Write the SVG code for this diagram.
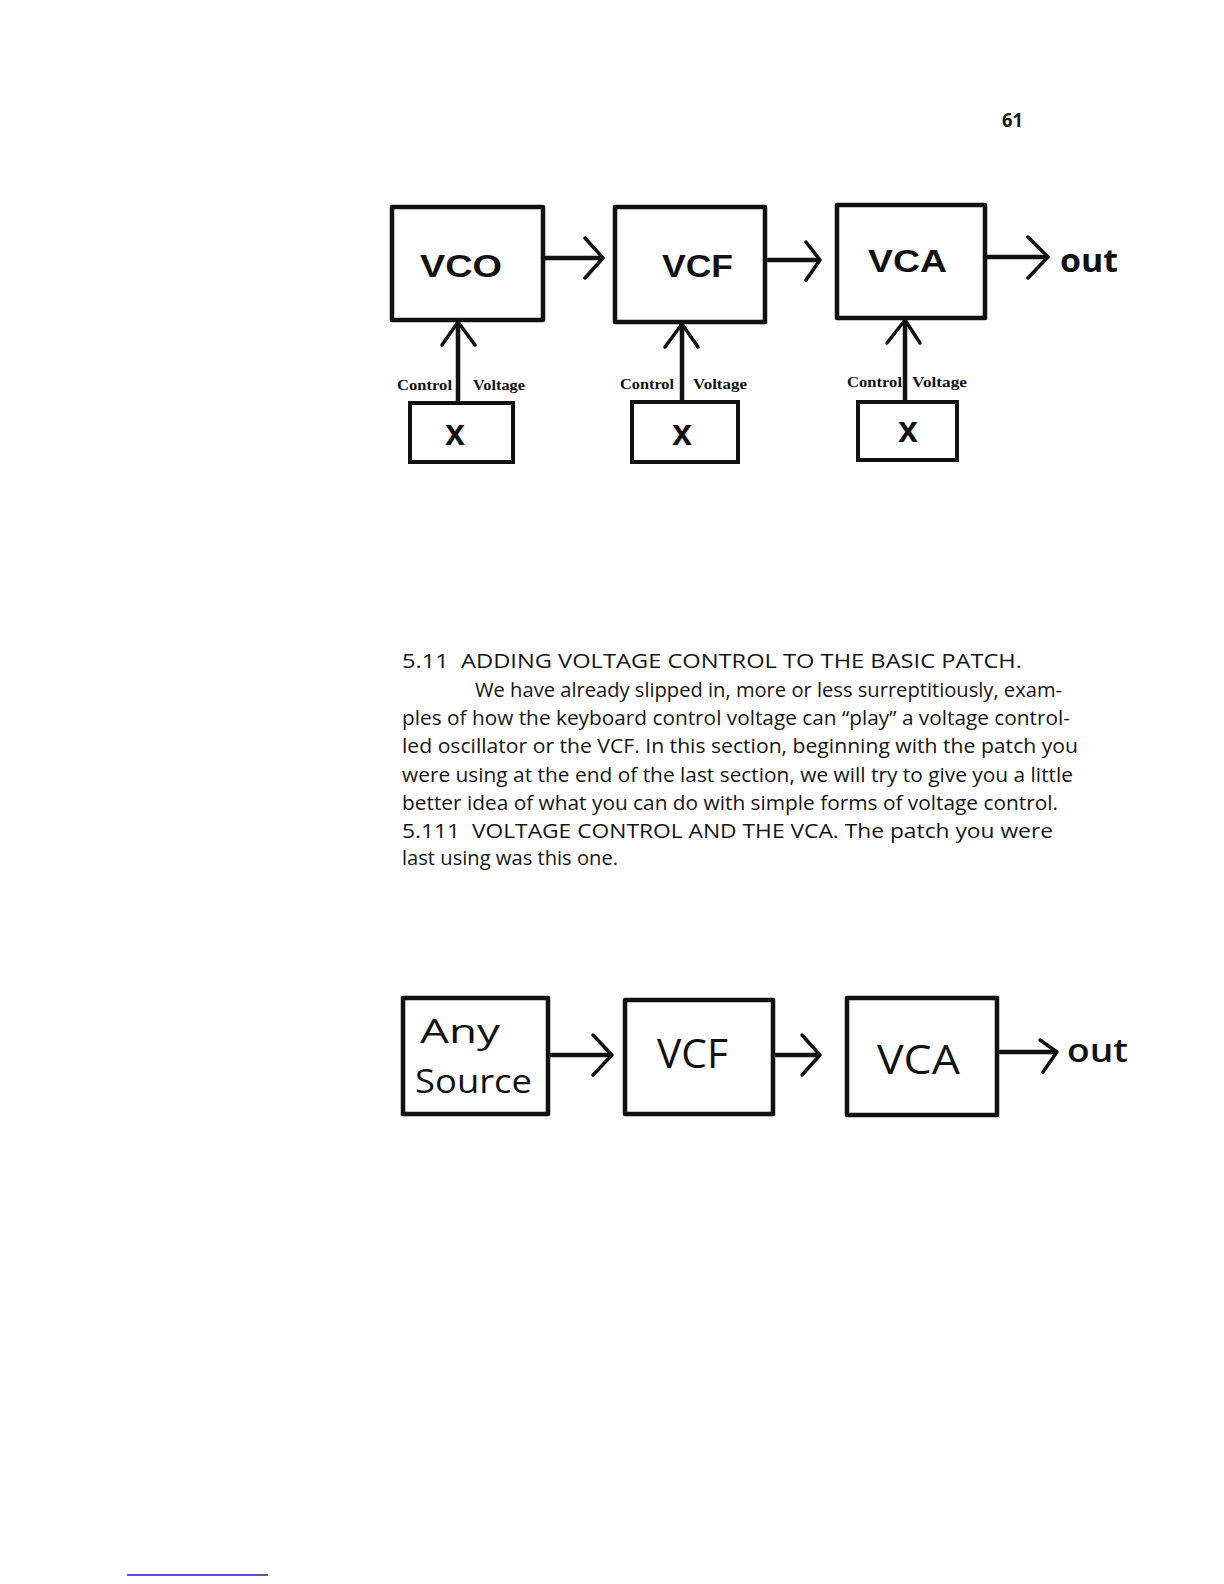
<svg xmlns="http://www.w3.org/2000/svg" width="1224" height="1584" viewBox="0 0 1224 1584">
<style>
.box{fill:none;stroke:#111;stroke-width:4.5;stroke-linejoin:round}
.xbox{fill:none;stroke:#111;stroke-width:4}
.ln{fill:none;stroke:#111;stroke-width:4.5;stroke-linecap:round;stroke-linejoin:round}
.hd{fill:none;stroke:#111;stroke-width:3.5;stroke-linecap:round;stroke-linejoin:round}
.big{font-family:"Liberation Sans",Arial,sans-serif;font-weight:bold;font-size:32px;fill:#111}
.cv{font-family:"Liberation Serif","Times New Roman",serif;font-weight:bold;font-size:15px;fill:#111}
.xg{font-family:"Liberation Sans",Arial,sans-serif;font-weight:bold;font-size:36px;fill:#111}
.out{font-family:"Open Sans","Liberation Sans",sans-serif;font-weight:bold;font-size:32px;fill:#111}
.body{font-family:"Open Sans","Liberation Sans",sans-serif;font-size:20px;fill:#151515}
.hand{font-family:"Open Sans","Liberation Sans",sans-serif;font-size:40px;fill:#111}
.hand2{font-family:"Open Sans","Liberation Sans",sans-serif;font-size:33px;fill:#111}
.pg{font-family:"Open Sans","Liberation Sans",sans-serif;font-weight:bold;font-size:19px;fill:#151515}
</style>
<rect width="1224" height="1584" fill="#fff"/>
<text class="pg" x="1002" y="127" textLength="21" lengthAdjust="spacingAndGlyphs">61</text>

<!-- top diagram nodes -->
<g id="vco">
<rect class="box" x="392" y="207" width="151" height="113"/>
<text class="big" x="420" y="277" textLength="82" lengthAdjust="spacingAndGlyphs">VCO</text>
</g>
<g id="vcf">
<rect class="box" x="615" y="207" width="150" height="115"/>
<text class="big" x="662" y="277" textLength="71" lengthAdjust="spacingAndGlyphs">VCF</text>
</g>
<g id="vca">
<rect class="box" x="837" y="205" width="148" height="113"/>
<text class="big" x="868" y="272" textLength="79" lengthAdjust="spacingAndGlyphs">VCA</text>
</g>
<g id="out1">
<text class="out" x="1060" y="272" textLength="58" lengthAdjust="spacingAndGlyphs">out</text>
</g>
<g id="x1">
<rect class="xbox" x="410" y="403" width="103" height="59"/>
<text class="xg" x="455" y="445" text-anchor="middle">x</text>
</g>
<g id="x2">
<rect class="xbox" x="632" y="402" width="106" height="60"/>
<text class="xg" x="682" y="445" text-anchor="middle">x</text>
</g>
<g id="x3">
<rect class="xbox" x="858" y="402" width="99" height="58"/>
<text class="xg" x="908" y="442" text-anchor="middle">x</text>
</g>

<!-- top connectors -->
<g id="connectors-top">
<line class="ln" x1="543" y1="258" x2="602" y2="258"/>
<polyline class="hd" points="585,238 603,258 585,278"/>
<line class="ln" x1="765" y1="260" x2="819" y2="260"/>
<polyline class="hd" points="806,242 820,260 806,280"/>
<line class="ln" x1="985" y1="257" x2="1047" y2="257"/>
<polyline class="hd" points="1028,237 1048,257 1028,278"/>
<line class="ln" x1="458" y1="322" x2="458" y2="402"/>
<polyline class="hd" points="442,345 458,322 475,345"/>
<line class="ln" x1="682" y1="324" x2="682" y2="401"/>
<polyline class="hd" points="665,347 682,324 698,347"/>
<line class="ln" x1="905" y1="320" x2="905" y2="401"/>
<polyline class="hd" points="887,343 905,320 920,343"/>
<text class="cv" x="397" y="390" textLength="55" lengthAdjust="spacingAndGlyphs">Control</text>
<text class="cv" x="473" y="390" textLength="52" lengthAdjust="spacingAndGlyphs">Voltage</text>
<text class="cv" x="620" y="389" textLength="54" lengthAdjust="spacingAndGlyphs">Control</text>
<text class="cv" x="693" y="389" textLength="54" lengthAdjust="spacingAndGlyphs">Voltage</text>
<text class="cv" x="847" y="387" textLength="55" lengthAdjust="spacingAndGlyphs">Control</text>
<text class="cv" x="912" y="387" textLength="55" lengthAdjust="spacingAndGlyphs">Voltage</text>
</g>

<!-- body text -->
<g id="text">
<text class="body" x="402" y="668" textLength="620" lengthAdjust="spacingAndGlyphs" xml:space="preserve">5.11  ADDING VOLTAGE CONTROL TO THE BASIC PATCH.</text>
<text class="body" x="475" y="697" textLength="587" lengthAdjust="spacingAndGlyphs">We have already slipped in, more or less surreptitiously, exam-</text>
<text class="body" x="402" y="725" textLength="668" lengthAdjust="spacingAndGlyphs">ples of how the keyboard control voltage can “play” a voltage control-</text>
<text class="body" x="402" y="753" textLength="676" lengthAdjust="spacingAndGlyphs">led oscillator or the VCF. In this section, beginning with the patch you</text>
<text class="body" x="402" y="782" textLength="671" lengthAdjust="spacingAndGlyphs">were using at the end of the last section, we will try to give you a little</text>
<text class="body" x="402" y="810" textLength="656" lengthAdjust="spacingAndGlyphs">better idea of what you can do with simple forms of voltage control.</text>
<text class="body" x="402" y="838" textLength="651" lengthAdjust="spacingAndGlyphs" xml:space="preserve">5.111  VOLTAGE CONTROL AND THE VCA. The patch you were</text>
<text class="body" x="402" y="865" textLength="216" lengthAdjust="spacingAndGlyphs">last using was this one.</text>
</g>

<!-- bottom diagram nodes -->
<g id="anysource">
<rect class="box" x="403" y="998" width="145" height="116"/>
<text class="hand2" x="420" y="1043" textLength="80" lengthAdjust="spacingAndGlyphs">Any</text>
<text class="hand2" x="415" y="1093" textLength="117" lengthAdjust="spacingAndGlyphs">Source</text>
</g>
<g id="vcf2">
<rect class="box" x="625" y="1000" width="148" height="114"/>
<text class="hand" x="657" y="1068" textLength="71" lengthAdjust="spacingAndGlyphs">VCF</text>
</g>
<g id="vca2">
<rect class="box" x="847" y="998" width="150" height="117"/>
<text class="hand" x="877" y="1074" textLength="83" lengthAdjust="spacingAndGlyphs">VCA</text>
</g>
<g id="out2">
<text class="out" style="font-weight:600" x="1067" y="1062" textLength="61" lengthAdjust="spacingAndGlyphs">out</text>
</g>

<!-- bottom connectors -->
<g id="connectors-bottom">
<line class="ln" x1="548" y1="1055" x2="611" y2="1055"/>
<polyline class="hd" points="593,1035 612,1055 593,1075"/>
<line class="ln" x1="773" y1="1055" x2="819" y2="1055"/>
<polyline class="hd" points="802,1035 820,1055 802,1075"/>
<line class="ln" x1="997" y1="1052" x2="1056" y2="1052"/>
<polyline class="hd" points="1040,1040 1057,1052 1043,1072"/>
</g>

<line x1="127" y1="1575" x2="268" y2="1575" stroke="#1c1c8c" stroke-width="1.5"/>
</svg>
